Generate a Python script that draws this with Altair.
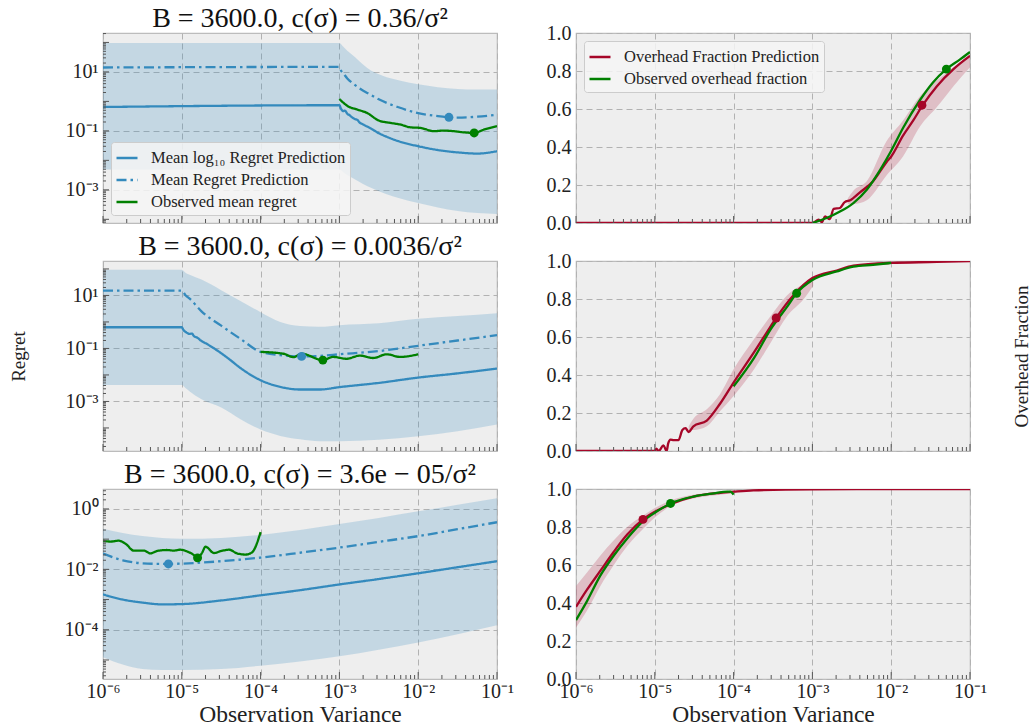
import altair as alt
import pandas as pd

FONT = "Liberation Serif"
BLUE, RED, GREEN = "#348ABD", "#A60628", "#008000"
W, H = 394, 190

TITLES = [
    "B = 3600.0, c(σ) = 0.36/σ²",
    "B = 3600.0, c(σ) = 0.0036/σ²",
    "B = 3600.0, c(σ) = 3.6e − 05/σ²",
]
L_SERIES = ["Mean log₁₀ Regret Prediction", "Mean Regret Prediction", "Observed mean regret"]
R_SERIES = ["Overhead Fraction Prediction", "Observed overhead fraction"]

# ---------------- left column: values are log10(variance), log10(regret) ----------------
# row 1 : c = 0.36
r1_band_lx = [-6, -5, -4, -3.0, -2.95, -2.9, -2.8, -2.7, -2.6, -2.5, -2.4, -2.25, -2.0, -1.75, -1.5, -1.25, -1.0]
r1_band_hi = [1.98, 1.98, 1.98, 1.98, 1.85, 1.72, 1.5, 1.25, 1.05, 0.92, 0.82, 0.72, 0.58, 0.48, 0.42, 0.4, 0.4]
r1_band_lo = [-2.31, -2.31, -2.31, -2.31, -2.4, -2.5, -2.65, -2.8, -2.93, -3.05, -3.15, -3.28, -3.45, -3.6, -3.72, -3.79, -3.82]
r1_logpred_lx = [-6, -3.0, -2.98, -2.95, -2.93, -2.9, -2.87, -2.85, -2.8, -2.77, -2.75, -2.7, -2.6, -2.5, -2.4, -2.25, -2.0, -1.75, -1.5, -1.25, -1.0]
r1_logpred = [-0.19, -0.13, -0.25, -0.33, -0.31, -0.42, -0.47, -0.52, -0.6, -0.63, -0.7, -0.78, -0.92, -1.08, -1.2, -1.35, -1.52, -1.65, -1.73, -1.77, -1.69]
r1_meanpred_lx = [-6, -3.0, -2.98, -2.95, -2.9, -2.8, -2.75, -2.6, -2.5, -2.25, -2.0, -1.75, -1.6, -1.5, -1.25, -1.0]
r1_meanpred = [1.15, 1.17, 1.05, 0.95, 0.78, 0.55, 0.45, 0.22, 0.07, -0.2, -0.4, -0.5, -0.54, -0.55, -0.52, -0.45]
r1_obs_lx = [-3.0, -2.90, -2.77, -2.65, -2.50, -2.35, -2.22, -2.10, -1.97, -1.80, -1.68, -1.55, -1.42, -1.29, -1.17, -1.0]
r1_obs = [0.08, -0.15, -0.28, -0.39, -0.65, -0.73, -0.79, -0.88, -0.90, -1.01, -0.99, -1.01, -1.05, -1.07, -0.96, -0.84]
r1_pred_min = (-1.61, -0.54)
r1_obs_min = (-1.29, -1.07)
r1_ylim = (-4.125, 2.32)
r1_yticks = [1, -1, -3]

# row 2 : c = 0.0036
r2_band_lx = [-6, -5.0, -4.95, -4.9, -4.75, -4.5, -4.25, -4.0, -3.75, -3.5, -3.25, -3.0, -2.5, -2.0, -1.5, -1.0]
r2_band_hi = [1.97, 1.97, 1.85, 1.78, 1.6, 1.2, 0.78, 0.37, 0.0, -0.15, -0.18, -0.12, -0.05, 0.12, 0.22, 0.33]
r2_band_lo = [-2.38, -2.38, -2.5, -2.62, -2.92, -3.23, -3.68, -4.06, -4.3, -4.43, -4.5, -4.5, -4.45, -4.31, -4.12, -3.87]
r2_logpred_lx = [-6, -5.0, -4.98, -4.95, -4.9, -4.87, -4.85, -4.8, -4.75, -4.7, -4.6, -4.5, -4.4, -4.25, -4.0, -3.75, -3.5, -3.25, -3.0, -2.5, -2.0, -1.5, -1.0]
r2_logpred = [-0.2, -0.2, -0.3, -0.38, -0.45, -0.44, -0.52, -0.6, -0.72, -0.8, -0.98, -1.18, -1.4, -1.75, -2.2, -2.45, -2.55, -2.55, -2.46, -2.3, -2.1, -1.94, -1.76]
r2_meanpred_lx = [-6, -5.0, -4.95, -4.9, -4.75, -4.5, -4.25, -4.0, -3.75, -3.48, -3.25, -3.0, -2.5, -2.0, -1.5, -1.0]
r2_meanpred = [1.18, 1.18, 1.0, 0.88, 0.4, -0.14, -0.65, -1.13, -1.25, -1.3, -1.28, -1.22, -1.1, -0.9, -0.7, -0.5]
r2_obs_lx = [-4.0, -3.71, -3.58, -3.48, -3.21, -3.08, -2.91, -2.74, -2.57, -2.40, -2.23, -2.0]
r2_obs = [-1.13, -1.2, -1.33, -1.2, -1.44, -1.32, -1.39, -1.27, -1.36, -1.22, -1.32, -1.22]
r2_pred_min = (-3.48, -1.3)
r2_obs_min = (-3.21, -1.44)
r2_ylim = (-4.87, 2.3)
r2_yticks = [1, -1, -3]

# row 3 : c = 3.6e-05
r3_band_lx = [-6, -5.75, -5.5, -5.25, -5, -4.5, -4, -3.5, -3, -2.5, -2, -1.5, -1]
r3_band_hi = [-0.66, -0.8, -0.9, -0.96, -0.99, -0.96, -0.86, -0.7, -0.5, -0.3, -0.08, 0.14, 0.35]
r3_band_lo = [-4.91, -5.15, -5.3, -5.33, -5.33, -5.3, -5.19, -5.05, -4.88, -4.66, -4.42, -4.15, -3.85]
r3_logpred_lx = r3_band_lx
r3_logpred = [-2.83, -3.0, -3.1, -3.16, -3.15, -3.03, -2.86, -2.69, -2.5, -2.32, -2.13, -1.93, -1.73]
r3_meanpred_lx = r3_band_lx
r3_meanpred = [-1.48, -1.7, -1.8, -1.82, -1.81, -1.73, -1.61, -1.45, -1.28, -1.09, -0.9, -0.67, -0.44]
r3_obs_lx = [-6.0, -5.90, -5.80, -5.71, -5.61, -5.48, -5.40, -5.31, -5.19, -5.10, -5.02, -4.93, -4.85,
             -4.80, -4.74, -4.70, -4.59, -4.51, -4.40, -4.30, -4.19, -4.11, -4.0]
r3_obs = [-1.05, -1.08, -1.05, -1.16, -1.38, -1.38, -1.47, -1.39, -1.36, -1.38, -1.35, -1.41, -1.52,
          -1.62, -1.44, -1.25, -1.46, -1.40, -1.35, -1.47, -1.51, -1.44, -0.77]
r3_pred_min = (-5.17, -1.82)
r3_obs_min = (-4.80, -1.62)
r3_ylim = (-5.63, 0.66)
r3_yticks = [0, -2, -4]

# ---------------- right column: log10(variance), overhead fraction ----------------
f1_pred_lx = [-6, -3.0, -2.92, -2.88, -2.84, -2.78, -2.73, -2.65, -2.59, -2.52, -2.4, -2.23, -2.06, -2.0, -1.85, -1.72, -1.6, -1.42, -1.21, -1.0]
f1_pred = [0.0, 0.0, 0.018, 0.004, 0.035, 0.02, 0.074, 0.079, 0.11, 0.12, 0.16, 0.22, 0.32, 0.35, 0.46, 0.54, 0.62, 0.72, 0.81, 0.88]
f1_band_lx = [-2.55, -2.48, -2.31, -2.06, -1.85, -1.63, -1.42, -1.21, -1.0]
f1_band_lo = [0.1, 0.1, 0.12, 0.25, 0.35, 0.51, 0.61, 0.72, 0.82]
f1_band_hi = [0.13, 0.17, 0.22, 0.43, 0.54, 0.67, 0.75, 0.82, 0.89]
f1_obs_lx = [-3.0, -2.82, -2.65, -2.48, -2.31, -2.14, -2.0, -1.85, -1.63, -1.47, -1.30, -1.13, -1.0]
f1_obs = [0.0, 0.026, 0.06, 0.105, 0.175, 0.28, 0.38, 0.5, 0.65, 0.74, 0.81, 0.86, 0.9]
f1_pred_pt = (-1.61, 0.62)
f1_obs_pt = (-1.30, 0.81)

f2_pred_lx = [-6, -5.0, -4.98, -4.95, -4.89, -4.85, -4.83, -4.8, -4.76, -4.7, -4.65, -4.61, -4.57, -4.51, -4.34,
              -4.17, -4.0, -3.74, -3.57, -3.46, -3.24, -3.0, -2.69, -2.48, -2.0, -1.42, -1.0]
f2_pred = [0.0, 0.0, 0.012, 0.0, 0.03, 0.0, 0.04, 0.06, 0.057, 0.057, 0.11, 0.12, 0.10, 0.13, 0.16,
           0.25, 0.36, 0.52, 0.63, 0.70, 0.82, 0.91, 0.95, 0.975, 0.99, 0.995, 1.0]
f2_band_lx = [-4.57, -4.51, -4.34, -4.17, -4.0, -3.74, -3.53, -3.32, -3.11, -2.99]
f2_band_lo = [0.11, 0.11, 0.13, 0.21, 0.29, 0.43, 0.57, 0.71, 0.80, 0.87]
f2_band_hi = [0.13, 0.17, 0.22, 0.30, 0.43, 0.59, 0.71, 0.82, 0.88, 0.91]
f2_obs_lx = [-4.0, -3.74, -3.53, -3.32, -3.2, -3.0, -2.69, -2.48, -2.23, -2.0]
f2_obs = [0.34, 0.49, 0.64, 0.76, 0.83, 0.9, 0.945, 0.97, 0.98, 0.99]
f2_pred_pt = (-3.46, 0.70)
f2_obs_pt = (-3.2, 0.83)

f3_pred_lx = [-6, -5.86, -5.69, -5.52, -5.35, -5.15, -5.0, -4.80, -4.51, -4.17, -4.0, -3.75, -3.0, -1.0]
f3_pred = [0.38, 0.47, 0.57, 0.67, 0.76, 0.84, 0.88, 0.92, 0.96, 0.98, 0.986, 0.993, 0.998, 1.0]
f3_band_lx = [-6, -5.86, -5.69, -5.52, -5.35, -5.15, -5.0, -4.80, -4.51, -4.17, -3.75, -3.0, -1.0]
f3_band_lo = [0.27, 0.36, 0.49, 0.60, 0.70, 0.79, 0.85, 0.91, 0.95, 0.97, 0.99, 0.997, 0.999]
f3_band_hi = [0.49, 0.56, 0.65, 0.73, 0.80, 0.86, 0.90, 0.94, 0.97, 0.986, 0.996, 0.999, 1.0]
f3_obs_lx = [-6, -5.86, -5.69, -5.52, -5.35, -5.15, -5.0, -4.80, -4.51, -4.25, -4.08, -4.04, -4.0]
f3_obs = [0.31, 0.41, 0.545, 0.65, 0.74, 0.83, 0.875, 0.924, 0.96, 0.977, 0.986, 0.986, 0.97]
f3_pred_pt = (-5.15, 0.84)
f3_obs_pt = (-4.80, 0.924)

# ---------------- axis ticks ----------------
X_DECADES = [-6, -5, -4, -3, -2, -1]
X_MINOR_MULT = [2, 3, 4, 5, 6, 7, 8, 9]
FRAC_TICKS = [0.0, 0.2, 0.4, 0.6, 0.8, 1.0]

SUP = {-6: "⁻⁶", -5: "⁻⁵", -4: "⁻⁴", -3: "⁻³", -2: "⁻²", -1: "⁻¹", 0: "⁰", 1: "¹", 2: "²"}
E = "round(log(datum.value)/LN10)"
POW_EXPR = "'10' + (" + " : ".join(f"{E} == {k} ? '{v}'" for k, v in SUP.items()) + " : '')"

GRID = dict(grid=True, gridColor="#b2b2b2", gridDash=[6, 4], gridWidth=1, domain=False,
            ticks=False, tickSize=0, labelFont=FONT, labelFontSize=20, labelColor="#222222",
            titleFont=FONT, titleFontWeight="normal", titleColor="#222222")


def x_enc(bottom):
    ax = alt.Axis(values=[10.0 ** e for e in X_DECADES], labelExpr=POW_EXPR, labels=bottom,
                  title="Observation Variance" if bottom else None, labelPadding=2,
                  labelFlush=False, titlePadding=1, titleFontSize=23.5, **GRID)
    return alt.X("x:Q", scale=alt.Scale(type="log", domain=[1e-6, 1e-1], nice=False), axis=ax)


def tick_layers(xscale_enc, log_y=None):
    major = pd.DataFrame({"x": [10.0 ** e for e in X_DECADES]})
    minor = pd.DataFrame({"x": [m * 10.0 ** e for e in X_DECADES[:-1] for m in X_MINOR_MULT]})
    out = [
        alt.Chart(major).mark_rule(color="#555555", strokeWidth=1).encode(
            x=xscale_enc, y=alt.value(H - 7), y2=alt.value(H)),
        alt.Chart(minor).mark_rule(color="#555555", strokeWidth=1).encode(
            x=xscale_enc, y=alt.value(H - 4), y2=alt.value(H)),
    ]
    if log_y is not None:
        yenc, lo, hi = log_y
        ymaj = pd.DataFrame({"y": [10.0 ** e for e in range(-7, 4) if lo <= e <= hi]})
        ymin = pd.DataFrame({"y": [m * 10.0 ** e for e in range(-7, 4) for m in X_MINOR_MULT
                                   if 10 ** lo <= m * 10.0 ** e <= 10 ** hi]})
        out += [
            alt.Chart(ymaj).mark_rule(color="#555555", strokeWidth=1).encode(
                y=yenc, x=alt.value(0), x2=alt.value(6)),
            alt.Chart(ymin).mark_rule(color="#555555", strokeWidth=1).encode(
                y=yenc, x=alt.value(0), x2=alt.value(3)),
        ]
    return out


def make_legend(orient):
    return alt.Legend(title=None, orient=orient, offset=8, symbolType="stroke",
                      symbolSize=441, symbolStrokeWidth=2.5, labelFont=FONT, labelFontSize=16.5,
                      labelColor="#222222", fillColor="rgba(244,244,244,0.85)", strokeColor="#cccccc",
                      cornerRadius=3, padding=4, rowPadding=1, labelOffset=12, labelLimit=400)


def left_panel(d, title, bottom, legend, ytitle):
    ylo, yhi = d["ylim"]
    yaxis = alt.Axis(values=[10.0 ** e for e in d["yticks"]], labelExpr=POW_EXPR, labelPadding=5,
                     title="Regret" if ytitle else None, titleX=-85, titleY=H / 2, titleFontSize=19,
                     titleBaseline="middle", titleAlign="center", **GRID)
    yscale = alt.Scale(type="log", domain=[10 ** ylo, 10 ** yhi], nice=False)
    yenc = alt.Y("y:Q", scale=yscale, axis=yaxis)
    X = x_enc(bottom)

    band = pd.DataFrame({"x": [10.0 ** v for v in d["band_lx"]],
                         "lo": [10.0 ** v for v in d["band_lo"]],
                         "hi": [10.0 ** v for v in d["band_hi"]]})
    rows = []
    for name, lx, ly in [(L_SERIES[0], d["logpred_lx"], d["logpred"]),
                         (L_SERIES[1], d["meanpred_lx"], d["meanpred"]),
                         (L_SERIES[2], d["obs_lx"], d["obs"])]:
        for a, b in zip(lx, ly):
            rows.append({"x": 10.0 ** a, "y": 10.0 ** b, "series": name})
    lines = pd.DataFrame(rows)

    leg = make_legend("bottom-left") if legend else None
    color = alt.Color("series:N", scale=alt.Scale(domain=L_SERIES, range=[BLUE, BLUE, GREEN]), legend=leg)
    dash = alt.StrokeDash("series:N", scale=alt.Scale(domain=L_SERIES, range=[[1, 0], [10, 4, 2.5, 4], [1, 0]]),
                          legend=leg)

    layers = [
        alt.Chart(band).mark_area(color=BLUE, opacity=0.22, clip=True, interpolate="monotone").encode(
            x=X, y=alt.Y("lo:Q", scale=yscale, axis=yaxis), y2="hi:Q"),
        alt.Chart(lines).mark_line(strokeWidth=2.3, clip=True, interpolate="monotone").encode(
            x=X, y=yenc, color=color, strokeDash=dash),
        alt.Chart(pd.DataFrame({"x": [10.0 ** d["pred_min"][0]], "y": [10.0 ** d["pred_min"][1]]}))
        .mark_circle(color=BLUE, size=80, opacity=1).encode(x=X, y=yenc),
        alt.Chart(pd.DataFrame({"x": [10.0 ** d["obs_min"][0]], "y": [10.0 ** d["obs_min"][1]]}))
        .mark_circle(color=GREEN, size=80, opacity=1).encode(x=X, y=yenc),
    ]
    layers += tick_layers(X, (yenc, ylo, yhi))
    return alt.layer(*layers).properties(
        width=W, height=H,
        title=alt.TitleParams(title, font=FONT, fontSize=28, fontWeight="normal", color="#111111",
                              anchor="middle", offset=0))


def right_panel(d, bottom, legend, ytitle):
    yaxis = alt.Axis(values=FRAC_TICKS, format=".1f", labelPadding=5,
                     title="Overhead Fraction" if ytitle else None, titleX=W + 51, titleY=H / 2,
                     titleFontSize=19, titleBaseline="middle", titleAlign="center", **GRID)
    yscale = alt.Scale(domain=[0, 1], nice=False)
    yenc = alt.Y("y:Q", scale=yscale, axis=yaxis)
    X = x_enc(bottom)
    band = pd.DataFrame({"x": [10.0 ** v for v in d["band_lx"]], "lo": d["band_lo"], "hi": d["band_hi"]})
    rows = []
    for name, lx, ly in [(R_SERIES[0], d["pred_lx"], d["pred"]), (R_SERIES[1], d["obs_lx"], d["obs"])]:
        for a, b in zip(lx, ly):
            rows.append({"x": 10.0 ** a, "y": b, "series": name})
    lines = pd.DataFrame(rows)
    leg = make_legend("top-left") if legend else None
    color = alt.Color("series:N", scale=alt.Scale(domain=R_SERIES, range=[RED, GREEN]), legend=leg)
    layers = [
        alt.Chart(band).mark_area(color=RED, opacity=0.2, clip=True, interpolate="monotone").encode(
            x=X, y=alt.Y("lo:Q", scale=yscale, axis=yaxis), y2="hi:Q"),
        alt.Chart(lines).mark_line(strokeWidth=2.3, clip=True, interpolate="monotone").encode(
            x=X, y=yenc, color=color),
        alt.Chart(pd.DataFrame({"x": [10.0 ** d["pred_pt"][0]], "y": [d["pred_pt"][1]]}))
        .mark_circle(color=RED, size=80, opacity=1).encode(x=X, y=yenc),
        alt.Chart(pd.DataFrame({"x": [10.0 ** d["obs_pt"][0]], "y": [d["obs_pt"][1]]}))
        .mark_circle(color=GREEN, size=80, opacity=1).encode(x=X, y=yenc),
    ]
    layers += tick_layers(X)
    return alt.layer(*layers).properties(width=W, height=H)


left_data = [
    dict(band_lx=r1_band_lx, band_hi=r1_band_hi, band_lo=r1_band_lo, logpred_lx=r1_logpred_lx, logpred=r1_logpred,
         meanpred_lx=r1_meanpred_lx, meanpred=r1_meanpred, obs_lx=r1_obs_lx, obs=r1_obs,
         pred_min=r1_pred_min, obs_min=r1_obs_min, ylim=r1_ylim, yticks=r1_yticks),
    dict(band_lx=r2_band_lx, band_hi=r2_band_hi, band_lo=r2_band_lo, logpred_lx=r2_logpred_lx, logpred=r2_logpred,
         meanpred_lx=r2_meanpred_lx, meanpred=r2_meanpred, obs_lx=r2_obs_lx, obs=r2_obs,
         pred_min=r2_pred_min, obs_min=r2_obs_min, ylim=r2_ylim, yticks=r2_yticks),
    dict(band_lx=r3_band_lx, band_hi=r3_band_hi, band_lo=r3_band_lo, logpred_lx=r3_logpred_lx, logpred=r3_logpred,
         meanpred_lx=r3_meanpred_lx, meanpred=r3_meanpred, obs_lx=r3_obs_lx, obs=r3_obs,
         pred_min=r3_pred_min, obs_min=r3_obs_min, ylim=r3_ylim, yticks=r3_yticks),
]
right_data = [
    dict(pred_lx=f1_pred_lx, pred=f1_pred, band_lx=f1_band_lx, band_lo=f1_band_lo, band_hi=f1_band_hi,
         obs_lx=f1_obs_lx, obs=f1_obs, pred_pt=f1_pred_pt, obs_pt=f1_obs_pt),
    dict(pred_lx=f2_pred_lx, pred=f2_pred, band_lx=f2_band_lx, band_lo=f2_band_lo, band_hi=f2_band_hi,
         obs_lx=f2_obs_lx, obs=f2_obs, pred_pt=f2_pred_pt, obs_pt=f2_obs_pt),
    dict(pred_lx=f3_pred_lx, pred=f3_pred, band_lx=f3_band_lx, band_lo=f3_band_lo, band_hi=f3_band_hi,
         obs_lx=f3_obs_lx, obs=f3_obs, pred_pt=f3_pred_pt, obs_pt=f3_obs_pt),
]

panels = []
for i in range(3):
    panels.append(left_panel(left_data[i], TITLES[i], bottom=(i == 2), legend=(i == 0), ytitle=(i == 1)))
    panels.append(right_panel(right_data[i], bottom=(i == 2), legend=(i == 0), ytitle=(i == 1)))

chart = alt.concat(*panels, columns=2, spacing={"row": 38, "column": 79}, bounds="flush").resolve_scale(
    color="independent", strokeDash="independent", x="independent", y="independent"
).properties(
    padding={"left": 8, "top": 4, "right": 0, "bottom": 0},
    background="white",
).configure_view(fill="#eeeeee", stroke="#bcbcbc", strokeWidth=1.2).configure_legend(
    labelFont=FONT)

chart.save("out.html", embed_options={"renderer": "svg", "actions": False})
